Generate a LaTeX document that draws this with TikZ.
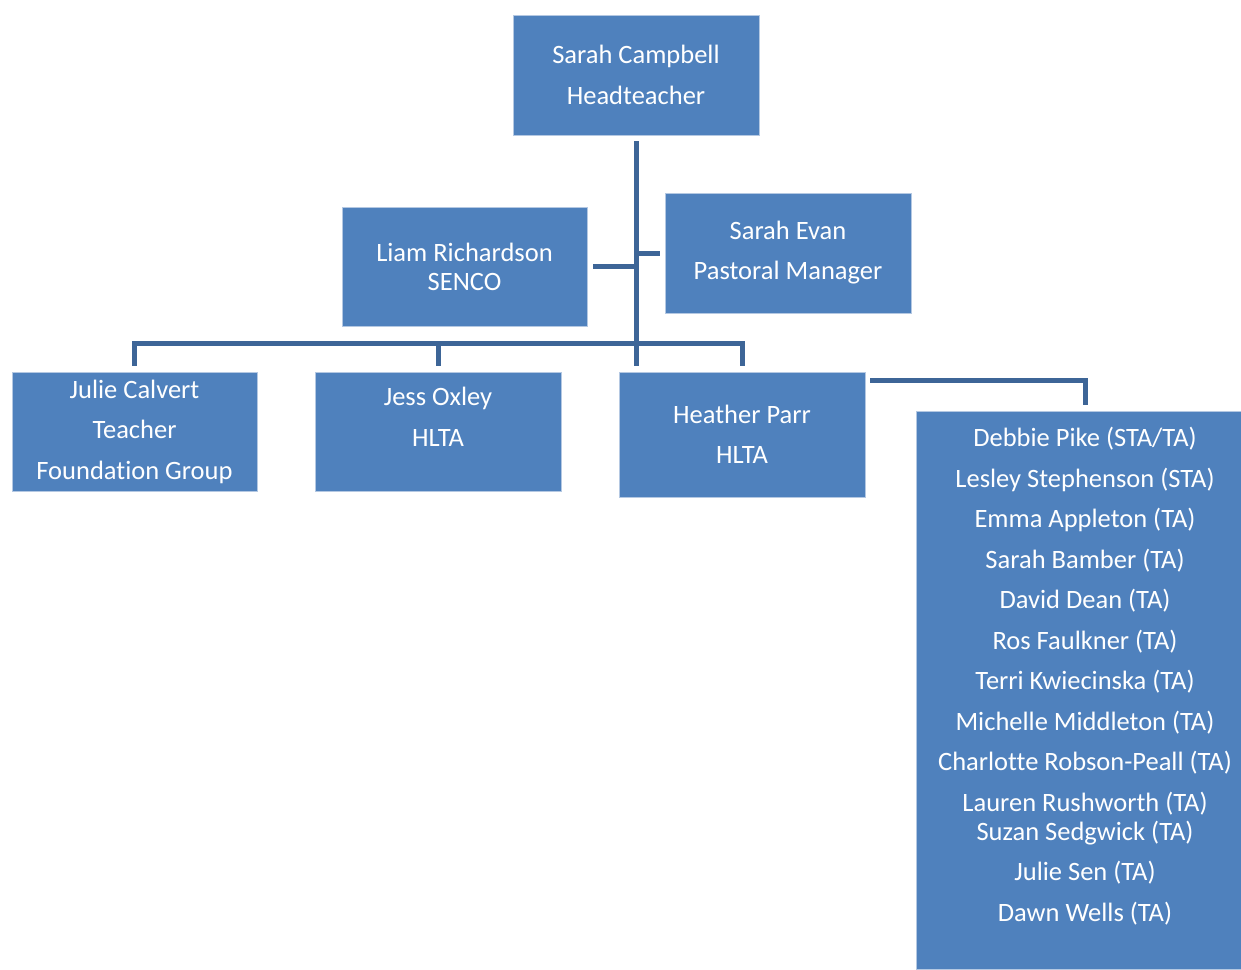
\documentclass[tikz,border=0pt]{standalone}
\usepackage{fontspec}
\setmainfont{Carlito}[Ligatures=NoCommon]
\usetikzlibrary{calc}
\definecolor{boxblue}{HTML}{4F81BD}
\definecolor{boxedge}{HTML}{B4C8E2}
\definecolor{linkblue}{HTML}{3D6597}
\begin{document}
\begin{tikzpicture}[x=1pt,y=-1pt,
    box/.style={rectangle, draw=boxedge, line width=0.8pt, fill=boxblue, text=white,
        align=center, inner sep=0pt, font=\fontsize{26.5}{29}\selectfont},
    link/.style={draw=linkblue, line width=5pt}]
        \useasboundingbox (0, 0) rectangle (1241, 969);
        \clip (0, 0) rectangle (1241, 969);

        \node[box, minimum width=246, minimum height=120] (head) at (636, 75) { Sarah Campbell\\[12pt]Headteacher };
        \node[box, minimum width=245, minimum height=119] (liam) at (464.5, 266.5) { Liam Richardson\\SENCO };
        \node[box, minimum width=246, minimum height=120] (evan) at (788, 253) { Sarah Evan\\[11pt]Pastoral Manager };

        \node[box, minimum width=245, minimum height=119] (julie) at (134.5, 431.5) { Julie Calvert\\[11.5pt]Teacher\\[11.5pt]Foundation Group };
        \node[box, minimum width=246, minimum height=119] (jess) at (438, 431.5) { Jess Oxley\\[12pt]HLTA\\[1pt]\mbox{} };
        \node[box, minimum width=246, minimum height=125] (heather) at (742, 434.5) { Heather Parr\\[11pt]HLTA };

        \node[box, minimum width=338, minimum height=558] (staff) at (1085, 690) {
            Debbie Pike (STA/TA)\\[11.5pt]
            Lesley Stephenson (STA)\\[11.5pt]
            Emma Appleton (TA)\\[11.5pt]
            Sarah Bamber (TA)\\[11.5pt]
            David Dean (TA)\\[11.5pt]
            Ros Faulkner (TA)\\[11.5pt]
            Terri Kwiecinska (TA)\\[11.5pt]
            Michelle Middleton (TA)\\[11.5pt]
            Charlotte Robson-Peall (TA)\\[11.5pt]
            Lauren Rushworth (TA)\\
            Suzan Sedgwick (TA)\\[11.5pt]
            Julie Sen (TA)\\[11.5pt]
            Dawn Wells (TA)\\[2pt]\mbox{} };

        \coordinate (bus) at (636, 343);

        \draw[link] ([yshift=-6pt]head.south) -- ($(head.south |- heather.north) + (0, -6)$);
        \draw[link] ([xshift=6pt]liam.east) -- (liam.east -| head.south);
        \draw[link] (head.south |- evan.west) -- ([xshift=-5pt]evan.west);
        \draw[link] ($(julie.north) + (0, -6)$) |- (bus) -| ($(heather.north) + (0, -6)$);
        \draw[link] ($(jess.north) + (0, -6)$) -- (jess.north |- bus);
        \draw[link] ([xshift=5pt,yshift=-9pt]heather.north east) -| ([yshift=6pt]staff.north);

    \end{tikzpicture}
\end{document}
